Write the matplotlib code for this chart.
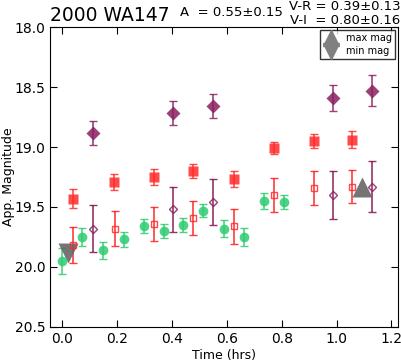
import matplotlib
matplotlib.use('Agg')
import matplotlib.pyplot as plt
from matplotlib.lines import Line2D

# green circles
g_t = [0.0, 0.073, 0.148, 0.224, 0.297, 0.37, 0.44, 0.512, 0.588, 0.664, 0.736, 0.807]
g_m = [19.95, 19.75, 19.86, 19.77, 19.66, 19.70, 19.65, 19.53, 19.68, 19.75, 19.45, 19.46]
g_e = [0.11, 0.075, 0.07, 0.065, 0.06, 0.06, 0.055, 0.057, 0.068, 0.078, 0.07, 0.06]

# red filled squares
r_t = [0.037, 0.188, 0.334, 0.476, 0.627, 0.773, 0.916, 1.058]
r_m = [19.43, 19.29, 19.25, 19.20, 19.27, 19.01, 18.95, 18.94]
r_e = [0.08, 0.065, 0.065, 0.06, 0.067, 0.05, 0.06, 0.07]

# red open squares
ro_t = [0.037, 0.191, 0.334, 0.476, 0.627, 0.773, 0.916, 1.058]
ro_m = [19.82, 19.68, 19.64, 19.59, 19.66, 19.40, 19.34, 19.33]
ro_e = [0.15, 0.143, 0.14, 0.14, 0.145, 0.14, 0.143, 0.14]

# purple filled diamonds
p_t = [0.110, 0.405, 0.551, 0.987, 1.128]
p_m = [18.886, 18.714, 18.66, 18.59, 18.53]
p_e = [0.1, 0.1, 0.1, 0.11, 0.13]

# purple open diamonds
po_t = [0.112, 0.405, 0.551, 0.987, 1.13]
po_m = [19.68, 19.52, 19.46, 19.40, 19.33]
po_e = [0.195, 0.19, 0.19, 0.197, 0.21]

# extremes
max_t, max_m = 1.094, 19.33
min_t, min_m = 0.02, 19.88

fig = plt.figure(figsize=(4.01, 3.62), dpi=100)
ax = fig.add_axes([0.125, 0.097, 0.868, 0.828])

ax.errorbar(g_t, g_m, yerr=g_e, fmt='o', color='#2ecc71', ms=7, mec='none',
            ecolor='#2ecc71', capsize=3, elinewidth=1.2, alpha=0.85)
ax.errorbar(r_t, r_m, yerr=r_e, fmt='s', color='#ff2a2a', ms=7, mec='none',
            ecolor='#ff2a2a', capsize=3, elinewidth=1.2, alpha=0.85)
ax.errorbar(ro_t, ro_m, yerr=ro_e, fmt='s', mfc='none', mec='#ff2a2a', ms=4,
            ecolor='#ff1a1a', capsize=3, elinewidth=1.2, alpha=0.85)
ax.errorbar(p_t, p_m, yerr=p_e, fmt='D', color='#8b2060', ms=7, mec='none',
            ecolor='#8b2060', capsize=3, elinewidth=1.2, alpha=0.85)
ax.errorbar(po_t, po_m, yerr=po_e, fmt='D', mfc='none', mec='#8b2060', ms=4,
            ecolor='#80104a', capsize=3, elinewidth=1.2, alpha=0.85)

ax.plot([max_t], [max_m], '^', color='#666666', ms=15, mec='none', alpha=0.9)
ax.plot([min_t], [min_m], 'v', color='#666666', ms=15, mec='none', alpha=0.9)

ax.set_xlim(-0.045, 1.225)
ax.set_ylim(20.5, 18.0)
ax.set_xticks([0.0, 0.2, 0.4, 0.6, 0.8, 1.0, 1.2])
ax.set_yticks([18.0, 18.5, 19.0, 19.5, 20.0, 20.5])
ax.tick_params(direction='in', top=True, right=True, labelsize=10, length=5)
ax.set_xlabel('Time (hrs)', fontsize=9)
ax.set_ylabel('App. Magnitude', fontsize=9)
ax.xaxis.set_label_coords(0.5, -0.075)
ax.yaxis.set_label_coords(-0.1, 0.5)

handles = [Line2D([], [], marker='^', ls='none', color='#808080', ms=12),
           Line2D([], [], marker='v', ls='none', color='#808080', ms=12)]
leg = ax.legend(handles, ['max mag', 'min mag'], loc='upper right', fontsize=7,
                fancybox=False, edgecolor='black', handletextpad=0.8,
                labelspacing=0.35, borderpad=0.3, handlelength=1.6,
                borderaxespad=0.3)
leg.get_frame().set_linewidth(1.0)

fig.text(0.125, 0.93, '2000 WA147', fontsize=13.5, ha='left', va='bottom')
fig.text(0.45, 0.965, 'A  = 0.55\u00b10.15', fontsize=9.5, ha='left', va='center')
fig.text(0.998, 1.0, 'V-R = 0.39\u00b10.13', fontsize=9.5, ha='right', va='top')
fig.text(0.998, 0.96, 'V-I  = 0.80\u00b10.16', fontsize=9.5, ha='right', va='top')

fig.savefig('out.png', dpi=100)
